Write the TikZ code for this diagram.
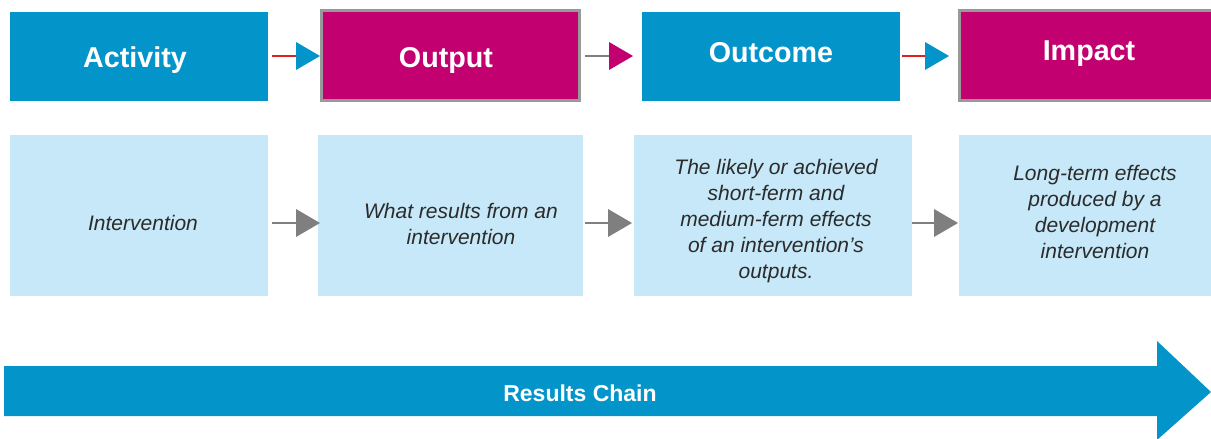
\documentclass[tikz,border=0pt]{standalone}
\usepackage{fontspec}
\setmainfont{Liberation Sans}
\definecolor{cblue}{HTML}{0394C9}
\definecolor{cmag}{HTML}{C2006F}
\definecolor{clight}{HTML}{C6E8F8}
\definecolor{cred}{HTML}{E02020}
\definecolor{cgray}{HTML}{7F7F7F}
\definecolor{ctext}{HTML}{2B2B2B}
\begin{document}
\begin{tikzpicture}[x=1pt,y=-1pt,
  box/.style={anchor=north west,inner sep=0pt},
  bluebox/.style={box,fill=cblue},
  magbox/.style={box,fill=cmag,draw=gray!80,line width=2.5pt},
  descbox/.style={box,fill=clight},
  ttl/.style={text=white,font=\fontsize{28.7}{32}\selectfont\bfseries},
  desc/.style={text=ctext,align=center,font=\fontsize{21}{26}\selectfont\itshape}
]
\useasboundingbox (0,0) rectangle (1211,439);
% top row
\node[bluebox,minimum width=258,minimum height=89] (act) at (10,12) {};
\node[ttl] at (135,60) {Activity};
\node[magbox,minimum width=258,minimum height=90] (out) at (320,9) {};
\node[ttl] at (446,60) {Output};
\node[bluebox,minimum width=258,minimum height=89] (oc) at (642,12) {};
\node[ttl] at (771,53) {Outcome};
\node[magbox,minimum width=260,minimum height=90] (imp) at (958,9) {};
\node[ttl] at (1089,54) {Impact};
% top connectors
\draw[cred,line width=2pt] (272,56) -- (297,56);
\fill[cblue] (296,42) -- (320,56) -- (296,70) -- cycle;
\draw[cgray,line width=2pt] (585,56) -- (610,56);
\fill[cmag] (609,42) -- (633,56) -- (609,70) -- cycle;
\draw[cred,line width=2pt] (902,56) -- (926,56);
\fill[cblue] (925,42) -- (949,56) -- (925,70) -- cycle;
% description row
\node[descbox,minimum width=258,minimum height=161] (d1) at (10,135) {};
\node[desc] at (143,223) {Intervention};
\node[descbox,minimum width=265,minimum height=161] (d2) at (318,135) {};
\node[desc] at (461,224) {What results from an\\intervention};
\node[descbox,minimum width=278,minimum height=161] (d3) at (634,135) {};
\node[desc] at (776,221) {The likely or achieved\\short-ferm and\\medium-ferm effects\\of an intervention’s\\outputs.};
\node[descbox,minimum width=260,minimum height=161] (d4) at (959,135) {};
\node[desc] at (1095,212) {Long-term effects\\produced by a\\development\\intervention};
% gray arrows
\draw[cgray,line width=2.5pt] (272,223) -- (298,223);
\fill[cgray] (296,209) -- (320,223) -- (296,237) -- cycle;
\draw[cgray,line width=2.5pt] (585,223) -- (610,223);
\fill[cgray] (608,209) -- (632,223) -- (608,237) -- cycle;
\draw[cgray,line width=2.5pt] (912,223) -- (936,223);
\fill[cgray] (934,209) -- (958,223) -- (934,237) -- cycle;
% big arrow
\fill[cblue] (4,366) -- (1157,366) -- (1157,341) -- (1211,392) -- (1157,440) -- (1157,416) -- (4,416) -- cycle;
\node[text=white,font=\fontsize{23}{26}\selectfont\bfseries] at (580,393) {Results Chain};
\end{tikzpicture}
\end{document}
